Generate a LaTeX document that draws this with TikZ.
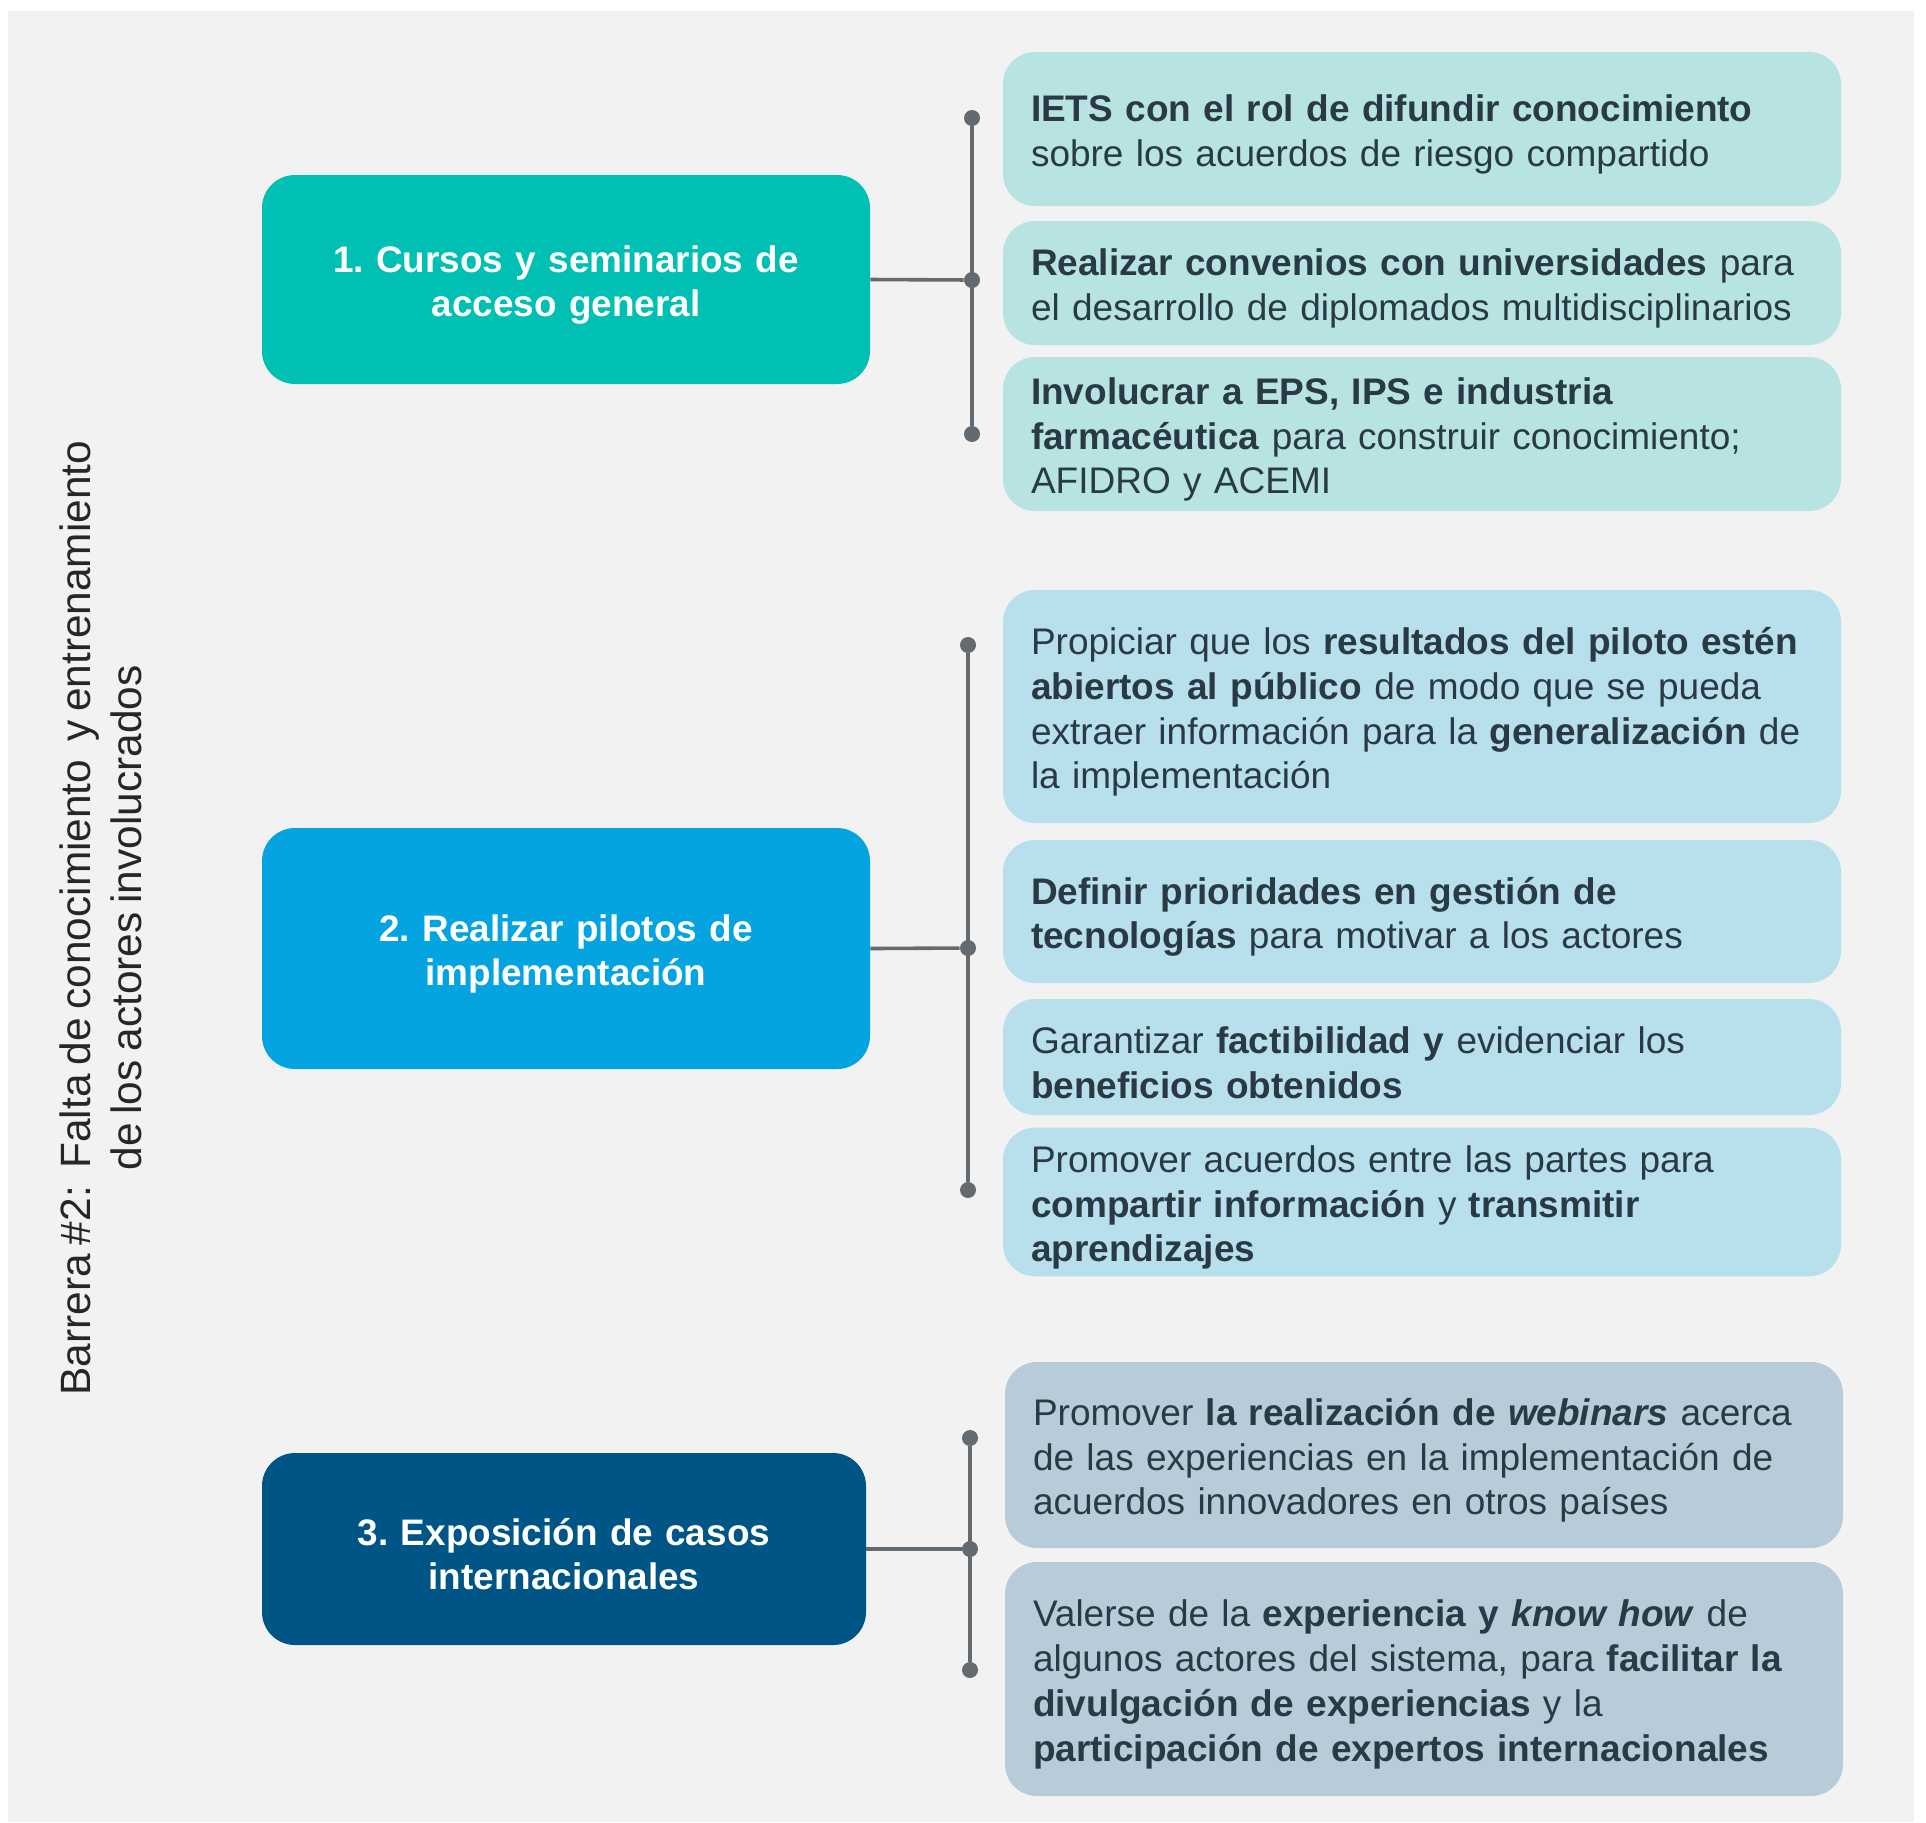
\documentclass[tikz,border=0pt]{standalone}
\usepackage{fontspec}
\setmainfont{Liberation Sans}[WordSpace=0.75]
\usetikzlibrary{positioning}

\definecolor{fondo}{HTML}{F2F2F2}
\definecolor{verde}{HTML}{00BFB3}
\definecolor{azul}{HTML}{03A4E0}
\definecolor{marino}{HTML}{005587}
\definecolor{verdeclaro}{HTML}{B7E4E2}
\definecolor{azulclaro}{HTML}{B8DFEC}
\definecolor{grisazul}{HTML}{B7CBD8}
\definecolor{texto}{HTML}{2A3A44}
\definecolor{linea}{HTML}{636B71}

\begin{document}
\frenchspacing
\begin{tikzpicture}[x=0.5pt,y=-0.5pt,
  tema/.style={rounded corners=16.5pt,minimum width=304pt,text width=284pt,align=center,text=white,
    font=\bfseries\fontsize{18.45}{22.1}\selectfont,execute at begin node={\rule{0pt}{19pt}}},
  accion/.style={rounded corners=16pt,minimum width=419pt,text width=391pt,inner xsep=14pt,
    align=left,text=texto,font=\fontsize{18.5}{22.4}\selectfont,execute at begin node={\rule{0pt}{19pt}}},
  punto/.style={circle,fill=linea,inner sep=0pt,minimum size=8pt},
  conector/.style={draw=linea,line width=1.8pt}]
  \useasboundingbox (0,0) rectangle (1926,1822);
  \fill[fondo] (8,11) rectangle (1914,1822);

  \node[rotate=90,align=center,text=black!85,font=\fontsize{21.2}{25.5}\selectfont] (barrera) at (101,918)
    {Barrera \#2:~ Falta de conocimiento~ y entrenamiento\\de los actores involucrados};

  \node[tema,fill=verde,minimum height=104.5pt] (cursos) at (566,279.5) {1. Cursos y seminarios de\\acceso general};
  \node[tema,fill=azul,minimum height=120.5pt] (pilotos) at (566,948.5) {2. Realizar pilotos de\\implementaci\'on};
  \node[tema,fill=marino,minimum height=96pt,minimum width=302pt] (casos) at (564,1549) {3. Exposici\'on de casos\\internacionales};

  \node[accion,fill=verdeclaro,minimum height=77pt] (iets) at (1422,129)
    {\textbf{IETS con el rol de difundir conocimiento}\\sobre los acuerdos de riesgo compartido};
  \node[accion,fill=verdeclaro,minimum height=62pt] (convenios) at (1422,283)
    {\textbf{Realizar convenios con universidades} para\\el desarrollo de diplomados multidisciplinarios};
  \node[accion,fill=verdeclaro,minimum height=77pt] (involucrar) at (1422,434)
    {\textbf{Involucrar a EPS, IPS e industria}\\\textbf{farmac\'eutica} para construir conocimiento;\\AFIDRO y ACEMI};

  \node[accion,fill=azulclaro,minimum height=116.5pt] (resultados) at (1422,706.5)
    {Propiciar que los \textbf{resultados del piloto est\'en}\\\textbf{abiertos al p\'ublico} de modo que se pueda\\extraer informaci\'on para la \textbf{generalizaci\'on} de\\la implementaci\'on};
  \node[accion,fill=azulclaro,minimum height=71.5pt] (prioridades) at (1422,911.5)
    {\textbf{Definir prioridades en gesti\'on de}\\\textbf{tecnolog\'ias} para motivar a los actores};
  \node[accion,fill=azulclaro,minimum height=58pt] (factibilidad) at (1422,1057)
    {Garantizar \textbf{factibilidad y} evidenciar los\\\textbf{beneficios obtenidos}};
  \node[accion,fill=azulclaro,minimum height=71pt] (acuerdos) at (1422,1202)
    {Promover acuerdos entre las partes para\\\textbf{compartir informaci\'on} y \textbf{transmitir}\\\textbf{aprendizajes}};

  \node[accion,fill=grisazul,minimum height=93pt] (webinars) at (1424,1455)
    {Promover \textbf{la realizaci\'on de \textit{webinars}} acerca\\de las experiencias en la implementaci\'on de\\acuerdos innovadores en otros pa\'ises};
  \node[accion,fill=grisazul,minimum height=117pt] (expertos) at (1424,1679)
    {Valerse de la \textbf{experiencia y \textit{know how}} de\\algunos actores del sistema, para \textbf{facilitar la}\\\textbf{divulgaci\'on de experiencias} y la\\\textbf{participaci\'on de expertos internacionales}};

  \node[punto] (c1a) at (972,118) {};
  \node[punto] (c1b) at (972,280) {};
  \node[punto] (c1c) at (972,434) {};
  \node[punto] (c2a) at (968,645) {};
  \node[punto] (c2b) at (968,948) {};
  \node[punto] (c2c) at (968,1190) {};
  \node[punto] (c3a) at (970,1438) {};
  \node[punto] (c3b) at (970,1549) {};
  \node[punto] (c3c) at (970,1670) {};

  \draw[conector] (c1a) -- (c1c);
  \draw[conector] (cursos.east) -- (c1b);
  \draw[conector] (c2a) -- (c2c);
  \draw[conector] (pilotos.east) -- (c2b);
  \draw[conector] (c3a) -- (c3c);
  \draw[conector] (casos.east) -- (c3b);
\end{tikzpicture}
\end{document}
